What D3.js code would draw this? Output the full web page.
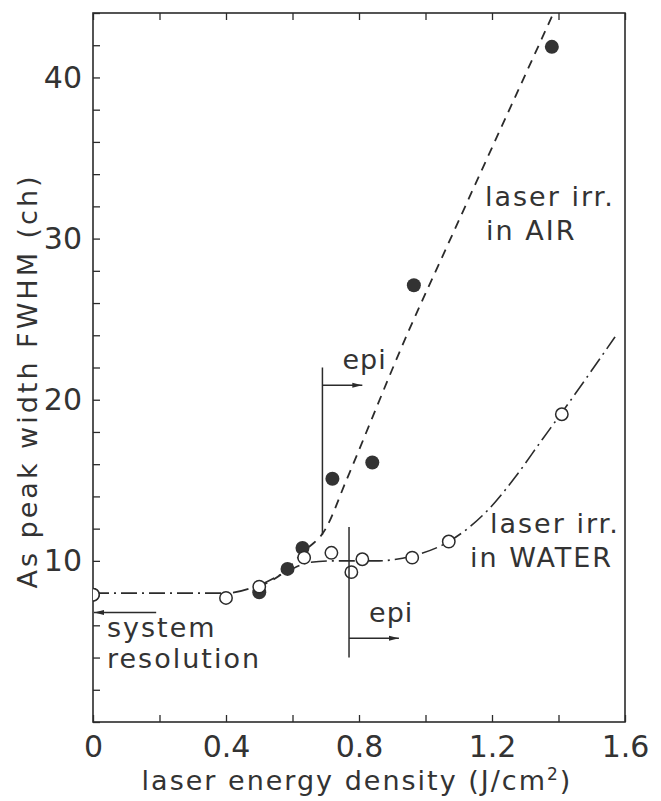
<!DOCTYPE html>
<html>
<head>
<meta charset="utf-8">
<script src="https://cdnjs.cloudflare.com/ajax/libs/d3/7.8.5/d3.min.js"></script>
<style>
  body { margin: 0; background: #fff; }
  text { font-family: "DejaVu Sans", sans-serif; fill: #333; }
</style>
</head>
<body>
<svg id="chart" width="661" height="801"></svg>
<script>
// measured points
const airX = [0, 0.5, 0.585, 0.63, 0.72, 0.84, 0.965, 1.38];
const airY = [7.9, 8.05, 9.5, 10.8, 15.1, 16.1, 27.1, 41.9];
const waterX = [0, 0.4, 0.5, 0.635, 0.717, 0.777, 0.81, 0.96, 1.07, 1.41];
const waterY = [7.9, 7.7, 8.4, 10.2, 10.5, 9.3, 10.1, 10.2, 11.2, 19.1];

// hand-drawn guide curves
const airCurveX = [0.5, 0.58, 0.63, 0.7, 0.76, 0.95, 1.06, 1.385];
const airCurveY = [8.4, 9.4, 10.5, 12.0, 14.9, 24.3, 29.3, 44];
const waterCurveX = [0, 0.4, 0.5, 0.58, 0.65, 0.72, 0.85, 0.96, 1.07, 1.19, 1.27, 1.35, 1.41, 1.57];
const waterCurveY = [8.0, 8.0, 8.5, 9.3, 9.9, 10.0, 10.0, 10.3, 11.2, 13.2, 15.2, 17.5, 19.2, 23.9];

// epi thresholds
const epiX = [0.69, 0.77];
const epiTop = [22.0, 12.1];
const epiBottom = [11.6, 4.0];
const epiArrowY = [20.9, 5.2];
const epiArrowEnd = [0.81, 0.92];

const sysResY = 6.8;
const sysResEnd = 0.19;

const xTicks = d3.range(0, 1.61, 0.2);
const xLabels = [0, 0.4, 0.8, 1.2, 1.6];
const yTicks = d3.range(0, 45, 2);
const yLabels = [10, 20, 30, 40];

const svg = d3.select('#chart');
const margin = { top: 13, right: 36, bottom: 79, left: 93 };
const width = 661 - margin.left - margin.right;
const height = 801 - margin.top - margin.bottom;
const ink = '#2b2b2b';

const x = d3.scaleLinear().domain([0, 1.6]).range([0, width]);
const y = d3.scaleLinear().domain([0, 44]).range([height, 0]);

const g = svg.append('g').attr('transform', `translate(${margin.left},${margin.top})`);

g.append('defs').append('clipPath').attr('id', 'plot')
  .append('rect').attr('width', width).attr('height', height);
svg.append('defs').append('marker')
  .attr('id', 'arrow').attr('viewBox', '0 0 10 6').attr('refX', 10).attr('refY', 3)
  .attr('markerWidth', 10).attr('markerHeight', 6).attr('markerUnits', 'userSpaceOnUse')
  .attr('orient', 'auto')
  .append('path').attr('d', 'M0,0.5L10,3L0,5.5Z').attr('fill', ink);

// axes
const fmtX = (d) => (xLabels.some((v) => Math.abs(v - d) < 1e-6) ? (d === 0 ? '0' : d3.format('.1f')(d)) : '');
const fmtY = (d) => (yLabels.includes(d) ? d : '');

const styleAxis = (sel) => {
  sel.select('.domain').remove();
  sel.selectAll('line').attr('stroke', ink).attr('stroke-width', 1.3);
  sel.selectAll('text').style('font-size', '30px').attr('fill', '#333');
};

g.append('g').attr('transform', `translate(0,${height})`)
  .call(d3.axisBottom(x).tickValues(xTicks).tickSize(-7).tickPadding(14).tickFormat(fmtX))
  .call(styleAxis);
g.append('g')
  .call(d3.axisTop(x).tickValues(xTicks).tickSize(-7).tickFormat(''))
  .call(styleAxis);
g.append('g')
  .call(d3.axisLeft(y).tickValues(yTicks).tickSize(-7).tickPadding(11).tickFormat(fmtY))
  .call(styleAxis);

g.append('rect').attr('width', width).attr('height', height)
  .attr('fill', 'none').attr('stroke', ink).attr('stroke-width', 1.6);

// axis titles
svg.append('text')
  .attr('x', 357).attr('y', 790)
  .attr('text-anchor', 'middle').style('font-size', '27px').style('letter-spacing', '2px')
  .html('laser energy density (J/cm<tspan dy="-10" font-size="17">2</tspan><tspan dy="10">)</tspan>');
svg.append('text')
  .attr('transform', 'translate(37,381) rotate(-90)')
  .attr('text-anchor', 'middle').style('font-size', '27px').style('letter-spacing', '3px')
  .text('As peak width FWHM (ch)');

// curves
const line = d3.line().x((d) => x(d[0])).y((d) => y(d[1])).curve(d3.curveMonotoneX);
const plot = g.append('g').attr('clip-path', 'url(#plot)');

plot.append('path').datum(d3.zip(waterCurveX, waterCurveY))
  .attr('d', line).attr('fill', 'none').attr('stroke', ink)
  .attr('stroke-width', 1.6).attr('stroke-dasharray', '16,5,2,5');
plot.append('path').datum(d3.zip(airCurveX, airCurveY))
  .attr('d', line).attr('fill', 'none').attr('stroke', ink)
  .attr('stroke-width', 1.8).attr('stroke-dasharray', '9,7');

// epi markers
epiX.forEach((ex, i) => {
  g.append('line').attr('x1', x(ex)).attr('x2', x(ex))
    .attr('y1', y(epiTop[i])).attr('y2', y(epiBottom[i]))
    .attr('stroke', ink).attr('stroke-width', 1.5);
  g.append('line').attr('x1', x(ex)).attr('x2', x(epiArrowEnd[i]))
    .attr('y1', y(epiArrowY[i])).attr('y2', y(epiArrowY[i]))
    .attr('stroke', ink).attr('stroke-width', 1.5).attr('marker-end', 'url(#arrow)');
  g.append('text').attr('x', x(ex) + 20).attr('y', y(epiArrowY[i]) - 16)
    .style('font-size', '27px').style('letter-spacing', '1px').text('epi');
});

// system resolution arrow
g.append('line').attr('x1', x(sysResEnd)).attr('x2', x(0) + 1)
  .attr('y1', y(sysResY)).attr('y2', y(sysResY))
  .attr('stroke', ink).attr('stroke-width', 1.5).attr('marker-end', 'url(#arrow)');

// points
plot.selectAll('.air').data(d3.zip(airX, airY)).enter()
  .append('circle').attr('class', 'air')
  .attr('cx', (d) => x(d[0])).attr('cy', (d) => y(d[1])).attr('r', 7)
  .attr('fill', '#333');
plot.selectAll('.water').data(d3.zip(waterX, waterY)).enter()
  .append('circle').attr('class', 'water')
  .attr('cx', (d) => x(d[0])).attr('cy', (d) => y(d[1])).attr('r', 6.2)
  .attr('fill', '#fff').attr('stroke', ink).attr('stroke-width', 1.5);

// labels
const label = (lines, xs, ly, gap) => {
  const t = g.append('text').style('font-size', '27px').style('letter-spacing', '2px');
  lines.forEach((s, i) => t.append('tspan').attr('x', xs[i]).attr('y', ly + i * gap).text(s));
};
label(['laser irr.', 'in AIR'], [392, 393], 193, 34);
label(['laser irr.', 'in WATER'], [397, 377], 520, 34);
label(['system', 'resolution'], [14, 14], 624, 31);
</script>
</body>
</html>
